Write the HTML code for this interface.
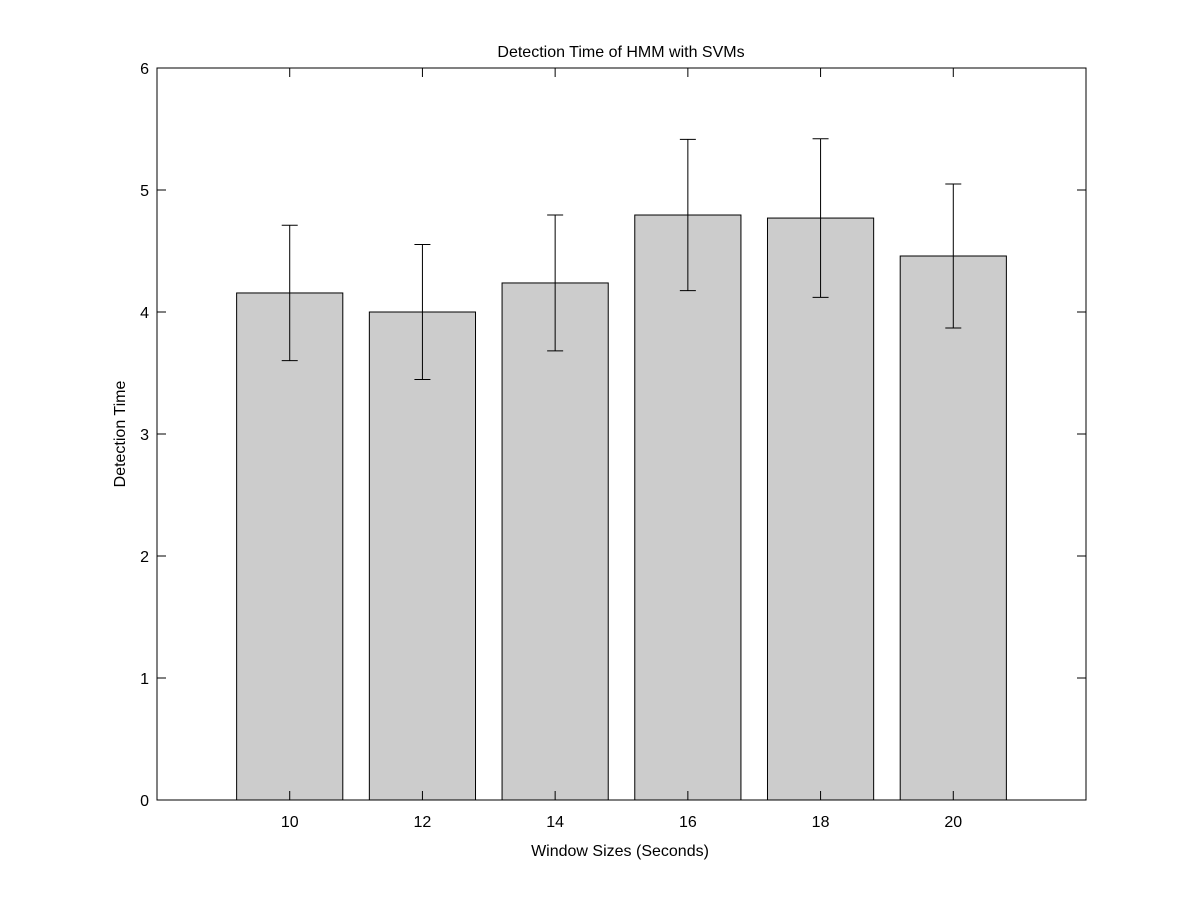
<!DOCTYPE html>
<html><head><meta charset="utf-8"><style>
body{margin:0;background:#fff;}
svg text{font-family:"Liberation Sans",sans-serif;font-size:16px;fill:#000;}
</style></head><body>
<svg id="chart" width="1200" height="900" xmlns="http://www.w3.org/2000/svg">
<rect width="1200" height="900" fill="#fff"/>
<text x="621" y="57" text-anchor="middle">Detection Time of HMM with SVMs</text>
<text x="620" y="856" text-anchor="middle">Window Sizes (Seconds)</text>
<text transform="translate(125,434) rotate(-90)" text-anchor="middle">Detection Time</text>
<g id="bars"></g><g id="axes"></g>
</svg>
<script>
const categories=["10","12","14","16","18","20"];
const values=[4.156,4.0,4.238,4.795,4.77,4.459];
const errors=[0.555,0.553,0.557,0.62,0.65,0.59];
const yTicks=[0,1,2,3,4,5,6];
const L=157,R=1086,T=68,B=800;
const xs=i=>L+(i+1)*(R-L)/7;
const ys=v=>B-(v/6)*(B-T);
const NS="http://www.w3.org/2000/svg";
function mk(t,a,p){const e=document.createElementNS(NS,t);for(const k in a)e.setAttribute(k,a[k]);p.appendChild(e);return e;}
const bars=document.getElementById('bars'),axes=document.getElementById('axes');
const bw=(R-L)/7*0.8;
values.forEach((v,i)=>{
 const c=xs(i);
 const r=mk('rect',{x:c-bw/2,y:ys(v),width:bw,height:B-ys(v),fill:'#cccccc',stroke:'#000','stroke-width':1},bars);
 
 
 const g=mk('g',{stroke:'#000','stroke-width':1},bars);
 
 
 const hi=ys(v+errors[i]),lo=ys(v-errors[i]);
 mk('line',{x1:c,x2:c,y1:hi,y2:lo},g);
 mk('line',{x1:c-8,x2:c+8,y1:hi,y2:hi},g);
 mk('line',{x1:c-8,x2:c+8,y1:lo,y2:lo},g);
});
const frame=mk('rect',{x:L,y:T,width:R-L,height:B-T,fill:'none',stroke:'#000','stroke-width':1},axes);


yTicks.forEach(t=>{
 const y=ys(t);
 mk('line',{x1:L,x2:L+9,y1:y,y2:y,stroke:'#000'},axes);
 mk('line',{x1:R,x2:R-9,y1:y,y2:y,stroke:'#000'},axes);
 const tx=mk('text',{x:L-8,y:y+6,'text-anchor':'end'},axes);
 tx.textContent=t;
 
 
});
categories.forEach((c,i)=>{
 const x=xs(i);
 mk('line',{x1:x,x2:x,y1:B,y2:B-9,stroke:'#000'},axes);
 mk('line',{x1:x,x2:x,y1:T,y2:T+9,stroke:'#000'},axes);
 const tx=mk('text',{x:x,y:B+27,'text-anchor':'middle'},axes);
 tx.textContent=c;
 
 
});
</script>
</body></html>
